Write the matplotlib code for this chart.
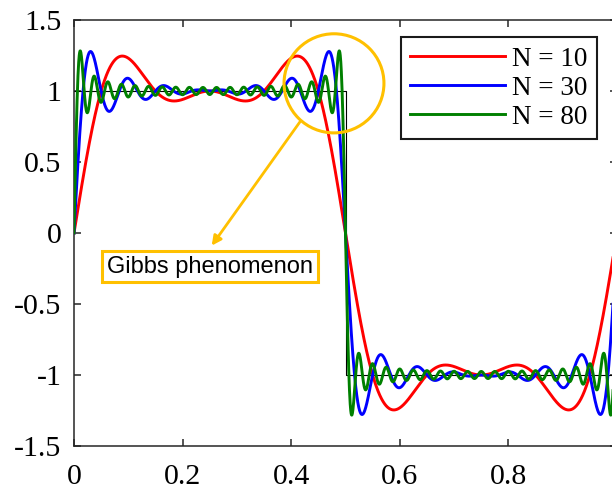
import numpy as np
import matplotlib
matplotlib.use("Agg")
import matplotlib.pyplot as plt
from matplotlib.patches import Ellipse

# number of samples used for each trigonometric reconstruction
n_values = [10, 30, 80]
labels = ["N = 10", "N = 30", "N = 80"]
colors = ["#ff0000", "#0000ff", "#008000"]

# ideal square wave
sq_x = [0.0, 0.5, 0.5, 1.0]
sq_y = [1.0, 1.0, -1.0, -1.0]

x_ticks = [0, 0.2, 0.4, 0.6, 0.8, 1]
y_ticks = [-1.5, -1, -0.5, 0, 0.5, 1, 1.5]
note_text = "Gibbs phenomenon"


def trig_interp(n, x):
    # samples of the square wave at mid-points, then periodic interpolation
    xs = (np.arange(n) + 0.5) / n
    fs = np.sign(np.sin(2 * np.pi * xs))
    t = x[:, None] - xs[None, :]
    den = n * np.tan(np.pi * t)
    num = np.sin(np.pi * n * t)
    small = np.abs(den) < 1e-12
    kern = np.where(small, 1.0, num / np.where(small, 1.0, den))
    return kern @ fs


plt.rcParams["font.family"] = ["Liberation Serif", "DejaVu Serif"]

fig = plt.figure(figsize=(6.12, 4.91), dpi=100)
ax = fig.add_axes([74 / 612, 45 / 491, 543 / 612, 426 / 491])

x = np.linspace(0, 1, 3001)
for n, lab, c in zip(n_values, labels, colors):
    ax.plot(x, trig_interp(n, x), color=c, lw=2.1, label=lab, zorder=3)
ax.plot(sq_x, sq_y, color="black", lw=0.8, zorder=2)

ax.set_xlim(0, 1)
ax.set_ylim(-1.5, 1.5)
ax.set_xticks(x_ticks)
ax.set_xticklabels(["0", "0.2", "0.4", "0.6", "0.8", "1"])
ax.set_yticks(y_ticks)
ax.set_yticklabels(["-1.5", "-1", "-0.5", "0", "0.5", "1", "1.5"])
ax.tick_params(direction="in", length=5, width=1.1, top=True, right=True,
               labelsize=21.5, color="#262626")
ax.tick_params(axis="x", pad=13)
ax.tick_params(axis="y", pad=9)
for s in ax.spines.values():
    s.set_linewidth(1.1)
    s.set_color("#262626")

leg = ax.legend(loc="upper right", bbox_to_anchor=(0.963, 0.96),
                borderaxespad=0, fontsize=19.5, handlelength=3.5,
                labelspacing=0.15, borderpad=0.35, handletextpad=0.25,
                fancybox=False, edgecolor="#1a1a1a", framealpha=1)
leg.get_frame().set_linewidth(1.5)

gold = "#ffc000"
ax.add_patch(Ellipse((0.4788, 1.054), 2 * 0.092, 2 * 0.349, fill=False,
                     edgecolor=gold, lw=2.2, zorder=5))
ax.annotate("", xy=(0.2536, -0.089), xytext=(0.416, 0.782),
            arrowprops=dict(arrowstyle="-|>", color=gold, lw=2,
                            mutation_scale=14, shrinkA=0, shrinkB=0),
            zorder=5)
ax.text(0.2505, -0.236, note_text, family="Liberation Sans", fontsize=17,
        ha="center", va="center", zorder=6,
        bbox=dict(boxstyle="square,pad=0.2", fc="white", ec=gold, lw=2.2))

fig.savefig("out.png", dpi=100)
